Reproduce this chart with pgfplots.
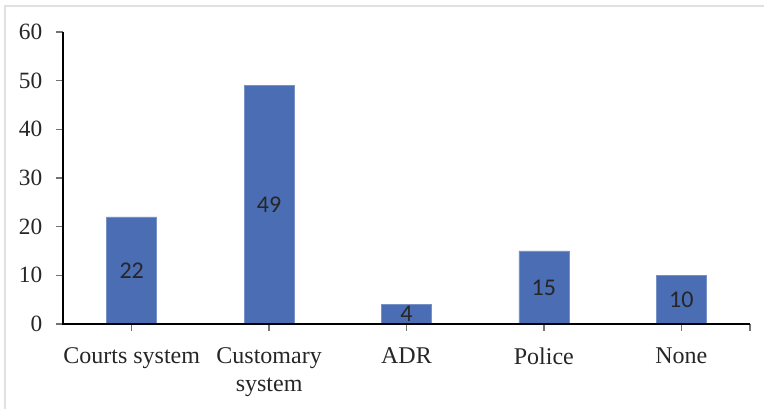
\documentclass[border=0pt]{standalone}
\usepackage{pgfplots}
\pgfplotsset{compat=1.18}
\usepackage{fontspec}
\setmainfont{Liberation Serif}
\newfontfamily\lblfont{Carlito}
\definecolor{barblue}{HTML}{4A6DB4}
\begin{document}
\begin{tikzpicture}
\useasboundingbox (-47.25pt,-63.75pt) rectangle (525.75pt,243pt);
\draw[color=black!12, line width=1.5pt] (-43.5pt,-63.75pt) -- (-43.5pt,238.5pt) -- (525.75pt,238.5pt);
\begin{axis}[
  at={(0,0)}, anchor=south west,
  scale only axis, width=515.25pt, height=219pt,
  xmin=-0.5, xmax=4.5, ymin=0, ymax=60,
  axis line style={draw=none},
  xtick pos=bottom, ytick pos=left,
  ytick={0,10,...,60},
  xtick={0,1,2,3,4,4.5},
  xticklabels={Courts system,{Customary\\system},ADR,Police,None,{}},
  /pgf/number format/assume math mode=true,
  xticklabel style={align=center, font=\fontsize{18}{21}\selectfont, text=black!85, yshift=-14.5pt},
  yticklabel style={font=\fontsize{17.5}{19}\selectfont, text=black!85, xshift=-12pt},
  tick align=outside,
  major tick length=0pt,
  clip=false,
]
\addplot[ybar, bar width=37.5pt, fill=barblue, draw=barblue!75!white, line width=0.4pt,
  nodes near coords,
  visualization depends on=y \as \rawy,
  every node near coord/.append style={font=\lblfont\fontsize{18}{20}\selectfont, text=black!85, anchor=center, shift={(axis direction cs:0,-\rawy/2)}},
] coordinates {(0,22) (1,49) (2,4) (3,15) (4,10)};
\pgfplotsinvokeforeach{0,10,20,30,40,50,60}{
  \draw[black!55, line width=1pt] (axis cs:-0.5,#1) -- ++(-5pt,0pt);
}
\pgfplotsinvokeforeach{0,1,2,3,4,4.5}{
  \draw[black!55, line width=1pt] (axis cs:#1,0) -- ++(0pt,-5pt);
}
\draw[black, line width=1.2pt] (axis cs:-0.5,60) -- (axis cs:-0.5,0) -- (axis cs:4.5,0);
\end{axis}
\end{tikzpicture}
\end{document}
